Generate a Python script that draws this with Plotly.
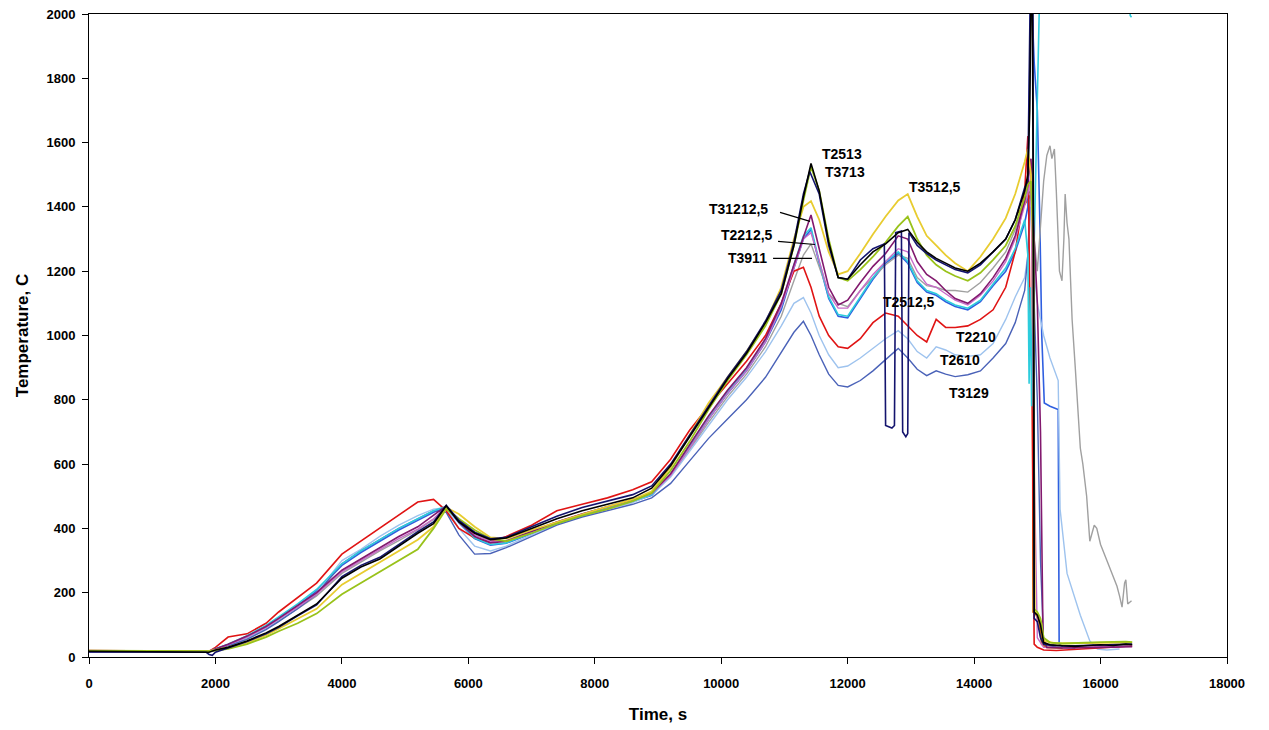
import plotly.graph_objects as go

# ---------------- data ----------------
time_main = [0, 500, 1000, 1500, 1900, 2000, 2200, 2500, 2800, 3000,
             3300, 3600, 4000, 4300, 4600, 4900, 5200, 5450, 5650, 5850,
             6100, 6350, 6600, 7000, 7400, 7800, 8200, 8600, 8900, 9200,
             9500, 9800, 10100, 10400, 10700, 10950, 11150, 11300, 11420, 11550,
             11700, 11850, 12000, 12200, 12400, 12600, 12800, 12950, 13100, 13250,
             13400, 13550, 13700, 13900, 14100, 14300, 14500, 14650, 14800]

t2513 = [18, 17, 18, 16, 15, 22, 30, 50, 75, 95,
         130, 165, 245, 280, 305, 345, 385, 415, 470, 420,
         385, 365, 370, 400, 430, 455, 475, 495, 525, 595,
         685, 775, 865, 945, 1040, 1130, 1280, 1430, 1535, 1450,
         1290, 1180, 1175, 1220, 1260, 1285, 1320, 1330, 1290, 1260,
         1240, 1225, 1210, 1200, 1225, 1260, 1300, 1360, 1450]
t2513_tail_t = [14850, 14880, 14900, 14920, 14940, 14950, 15000, 15050, 15100, 15200,
                15400, 15600, 15800, 16000, 16200, 16400, 16500]
t2513_tail_v = [1500, 1700, 2050, 2100, 1200, 140, 130, 100, 45, 38,
                35, 33, 36, 38, 36, 40, 38]

t3713 = [20, 19, 18, 17, 18, 20, 25, 40, 62, 80,
         105, 135, 195, 230, 265, 300, 335, 400, 460, 430,
         395, 368, 360, 385, 415, 440, 460, 485, 510, 580,
         670, 770, 860, 940, 1030, 1130, 1280, 1420, 1525, 1450,
         1300, 1180, 1170, 1205, 1245, 1290, 1340, 1370, 1300, 1250,
         1220, 1200, 1185, 1170, 1195, 1235, 1280, 1340, 1430]
t3713_tail_t = [14850, 14900, 14940, 14950, 15000, 15050, 15100, 15200, 15400, 15600,
                15800, 16000, 16200, 16400, 16500]
t3713_tail_v = [1470, 1480, 1300, 150, 140, 120, 60, 45, 42, 44,
                45, 46, 47, 48, 46]

t3512 = [18, 18, 17, 17, 18, 22, 30, 45, 68, 88,
         120, 150, 225, 260, 295, 330, 365, 405, 465, 445,
         405, 372, 368, 395, 420, 445, 468, 490, 515, 590,
         690, 790, 870, 950, 1040, 1150, 1300, 1400, 1418, 1360,
         1260, 1190, 1200, 1255, 1315, 1370, 1420, 1440, 1370, 1310,
         1280, 1250, 1225, 1200, 1245, 1300, 1365, 1440, 1540]
t3512_tail_t = [14850, 14900, 14940, 14960, 15000, 15060, 15100, 15300, 15600, 16000, 16500]
t3512_tail_v = [1580, 1500, 1200, 140, 135, 110, 50, 42, 42, 44, 45]

t31212 = [17, 17, 18, 16, 17, 25, 40, 65, 95, 120,
          160, 200, 270, 305, 340, 375, 405, 440, 470, 420,
          375, 355, 360, 390, 420, 445, 468, 490, 510, 570,
          660, 750, 830, 900, 990, 1100, 1220, 1310, 1375, 1270,
          1150, 1095, 1110, 1165, 1215, 1255, 1310, 1300, 1230, 1190,
          1170, 1140, 1115, 1100, 1130, 1180, 1240, 1310, 1420]
t31212_tail_t = [14850, 14900, 14950, 15000, 15050, 15075, 15090, 15150, 15400, 16000, 16500]
t31212_tail_v = [1480, 1550, 1300, 1100, 700, 300, 60, 30, 28, 30, 32]

lav = [17, 17, 18, 16, 17, 24, 38, 62, 92, 118,
       155, 195, 265, 300, 335, 368, 398, 430, 468, 425,
       380, 360, 362, 392, 420, 445, 466, 488, 508, 565,
       650, 740, 820, 890, 980, 1090, 1210, 1300, 1320, 1230,
       1130, 1085, 1085, 1140, 1190, 1230, 1270, 1260, 1200, 1160,
       1150, 1130, 1110, 1095, 1125, 1170, 1230, 1300, 1410]
lav_tail_t = [14850, 14900, 14950, 15000, 15100, 15500, 16000, 16500]
lav_tail_v = [1440, 1500, 600, 60, 30, 30, 32, 34]

t2212 = [18, 17, 18, 17, 17, 24, 35, 58, 88, 112,
         150, 190, 260, 295, 330, 362, 395, 428, 465, 430,
         385, 362, 362, 390, 418, 442, 465, 487, 508, 565,
         645, 730, 810, 880, 965, 1060, 1170, 1250, 1285, 1210,
         1130, 1100, 1090, 1140, 1180, 1220, 1250, 1240, 1180, 1155,
         1150, 1140, 1140, 1135, 1165, 1210, 1260, 1330, 1420]
t2212_tail_t = [14850, 14900, 14950, 15000, 15050, 15100, 15150, 15200, 15230, 15270,
                15300, 15350, 15390, 15420, 15440, 15470, 15500, 15550, 15600, 15680,
                15720, 15780, 15830, 15870, 15900, 15940, 16000, 16100, 16200, 16260,
                16300, 16340, 16380, 16400, 16430, 16460, 16490]
t2212_tail_v = [1440, 1450, 1300, 1200, 1350, 1480, 1560, 1590, 1550, 1580,
                1450, 1200, 1170, 1300, 1440, 1350, 1300, 1050, 900, 650,
                600, 500, 360, 390, 410, 400, 350, 300, 250, 220,
                190, 155, 230, 240, 165, 170, 175]

cyan = [17, 17, 17, 16, 17, 26, 40, 66, 98, 125,
        165, 210, 290, 330, 365, 400, 430, 455, 468, 420,
        370, 350, 355, 385, 415, 440, 462, 485, 505, 570,
        655, 745, 825, 895, 985, 1090, 1220, 1310, 1335, 1230,
        1120, 1065, 1060, 1120, 1180, 1230, 1260, 1230, 1170, 1140,
        1130, 1110, 1095, 1085, 1110, 1160, 1210, 1270, 1360]
cyan_tail_t = [14850, 14870, 14890, 14910, 14930, 14960, 15000, 15040, 15100, 16400, 16450, 16470, 16490]
cyan_tail_v = [1250, 850, 1150, 780, 1100, 1350, 1700, 2100, 2200, 2200, 2050, 1995, 1990]

time_navy = [0, 500, 1000, 1500, 1850, 1900, 1950, 2000, 2200, 2500,
             2800, 3000, 3300, 3600, 4000, 4300, 4600, 4900, 5200, 5450,
             5650, 5850, 6100, 6350, 6600, 7000, 7400, 7800, 8200, 8600,
             8900, 9200, 9500, 9800, 10100, 10400, 10700, 10950, 11150, 11300,
             11400, 11550, 11700, 11850, 12000, 12200, 12400, 12580, 12600, 12700,
             12740, 12760, 12850, 12870, 12920, 12950, 12970, 13100, 13250, 13400,
             13550, 13700, 13900, 14100, 14300, 14500, 14650, 14800]
t2512 = [16, 17, 16, 15, 15, 8, 5, 15, 28, 48,
         72, 92, 128, 162, 250, 285, 310, 350, 390, 420,
         472, 425, 388, 368, 372, 405, 438, 465, 485, 505,
         532, 600, 690, 780, 870, 950, 1045, 1140, 1290, 1440,
         1510, 1440, 1280, 1180, 1175, 1235, 1270, 1285, 720, 712,
         720, 1320, 1325, 700, 685, 695, 1320, 1280, 1255, 1235,
         1220, 1205, 1195, 1220, 1260, 1300, 1360, 1460]
t2512_tail_t = [14850, 14890, 14930, 14950, 15000, 15050, 15100, 15300, 15600, 16000, 16500]
t2512_tail_v = [1480, 2100, 2100, 120, 110, 60, 40, 35, 35, 38, 40]

t2210 = [20, 19, 20, 18, 18, 30, 62, 72, 105, 140,
         185, 230, 320, 360, 400, 440, 482, 490, 455, 400,
         370, 358, 375, 410, 455, 475, 495, 520, 545, 615,
         705, 780, 850, 920, 1000, 1100, 1200, 1212, 1150, 1060,
         1000, 965, 960, 990, 1040, 1070, 1060, 1030, 1000, 980,
         1050, 1025, 1025, 1030, 1050, 1080, 1150, 1260, 1450]
t2210_tail_t = [14850, 14870, 14890, 14910, 14940, 14950, 15000, 15100, 15300, 15500,
                15800, 16100, 16300, 16500]
t2210_tail_v = [1620, 1300, 950, 1000, 300, 40, 30, 22, 20, 22,
                25, 28, 32, 35]

t2610 = [17, 17, 17, 16, 17, 25, 35, 60, 90, 115,
         155, 200, 300, 335, 375, 410, 440, 460, 465, 400,
         345, 330, 345, 380, 415, 440, 460, 480, 505, 560,
         640, 720, 800, 870, 950, 1030, 1100, 1118, 1070, 1000,
         940, 900, 905, 930, 960, 990, 1015, 990, 950, 930,
         965, 955, 940, 935, 940, 975, 1050, 1120, 1180]
t2610_tail_t = [14850, 14900, 14950, 15000, 15100, 15200, 15330, 15360, 15470, 15680,
                15830, 15950, 16100, 16300]
t2610_tail_v = [1250, 1400, 1200, 1100, 1000, 930, 860, 460, 260, 130,
                50, 25, 22, 25]

t3129 = [17, 17, 17, 16, 17, 25, 35, 55, 85, 110,
         150, 195, 290, 330, 365, 400, 430, 455, 450, 380,
         320, 322, 340, 375, 410, 435, 455, 475, 495, 540,
         610, 680, 740, 800, 870, 950, 1010, 1044, 1000, 940,
         880, 845, 840, 860, 890, 925, 960, 930, 895, 875,
         890, 880, 872, 878, 890, 930, 975, 1040, 1140]
t3129_tail_t = [14850, 14900, 14950, 15000, 15050, 15100, 15300, 15600]
t3129_tail_v = [1250, 1500, 1100, 800, 300, 40, 30, 28]

blue = [17, 17, 17, 16, 17, 25, 38, 63, 95, 122,
        160, 205, 285, 325, 360, 395, 425, 450, 466, 418,
        368, 348, 354, 384, 414, 438, 460, 483, 503, 565,
        650, 740, 820, 890, 980, 1080, 1210, 1300, 1330, 1225,
        1115, 1060, 1055, 1115, 1175, 1225, 1255, 1225, 1165, 1135,
        1125, 1105, 1090, 1080, 1105, 1155, 1200, 1260, 1350]
blue_tail_t = [14850, 14900, 14950, 15000, 15040, 15070, 15110, 15200, 15330, 15345, 15400, 15600]
blue_tail_v = [1400, 2100, 1850, 1700, 1350, 1000, 790, 780, 770, 40, 32, 30]

orange_t = [14700, 14800, 14890, 14920, 14935, 14980, 15030, 15070, 15150, 15400]
orange_v = [1380, 1410, 1435, 1430, 140, 132, 110, 40, 30, 28]

x_ticks = [0, 2000, 4000, 6000, 8000, 10000, 12000, 14000, 16000, 18000]
x_tick_text = ["0", "2000", "4000", "6000", "8000", "10000", "12000", "14000", "16000", "18000"]
y_ticks = [0, 200, 400, 600, 800, 1000, 1200, 1400, 1600, 1800, 2000]
y_tick_text = ["0", "200", "400", "600", "800", "1000", "1200", "1400", "1600", "1800", "2000"]

# labels: text, x, y
labels = [
    ("T2513", 11910, 1564),
    ("T3713", 11958, 1508),
    ("T3512,5", 13380, 1461),
    ("T31212,5", 10266, 1393),
    ("T2212,5", 10408, 1313),
    ("T3911", 10408, 1240),
    ("T2512,5", 12970, 1103),
    ("T2210", 14030, 994),
    ("T2610", 13777, 925),
    ("T3129", 13920, 822),
]
leaders = [  # x0, y0, x1, y1
    (10930, 1383, 11405, 1355),
    (10899, 1293, 11484, 1283),
    (10820, 1240, 11436, 1240),
]

# ---------------- figure ----------------
series = [
    ("orange", orange_t, orange_v, "#CC6600", 2.0),
    ("blue", time_main + blue_tail_t, blue + blue_tail_v, "#2F5FE0", 1.6),
    ("T2212,5", time_main + t2212_tail_t, t2212 + t2212_tail_v, "#A0A0A0", 1.4),
    ("T2610", time_main + t2610_tail_t, t2610 + t2610_tail_v, "#9EC3EE", 1.4),
    ("T3129", time_main + t3129_tail_t, t3129 + t3129_tail_v, "#4A62B8", 1.4),
    ("T2210", time_main + t2210_tail_t, t2210 + t2210_tail_v, "#E01414", 1.6),
    ("cyan", time_main + cyan_tail_t, cyan + cyan_tail_v, "#2CCCDC", 1.6),
    ("lav", time_main + lav_tail_t, lav + lav_tail_v, "#C86BC8", 1.4),
    ("T31212,5", time_main + t31212_tail_t, t31212 + t31212_tail_v, "#82196E", 1.6),
    ("T3512,5", time_main + t3512_tail_t, t3512 + t3512_tail_v, "#E8CC30", 1.8),
    ("T3713", time_main + t3713_tail_t, t3713 + t3713_tail_v, "#99C21A", 1.8),
    ("T2512,5", time_navy + t2512_tail_t, t2512 + t2512_tail_v, "#14146E", 1.6),
    ("T2513", time_main + t2513_tail_t, t2513 + t2513_tail_v, "#000000", 1.6),
]

fig = go.Figure()
for name, xs, ys, col, w in series:
    fig.add_trace(go.Scatter(x=xs, y=ys, mode="lines", name=name,
                             line=dict(color=col, width=w), hoverinfo="skip"))

for txt, lx, ly in labels:
    fig.add_annotation(x=lx, y=ly, text=txt, showarrow=False,
                       font=dict(family="Liberation Sans, Arial", size=14, color="black", weight="bold"))
for x0, y0, x1, y1 in leaders:
    fig.add_shape(type="line", x0=x0, y0=y0, x1=x1, y1=y1, xref="x", yref="y",
                  line=dict(color="black", width=1.2))

axis_font = dict(family="Liberation Sans, Arial", size=13, color="black", weight="bold")
fig.update_xaxes(range=[0, 18000], tickvals=x_ticks, ticktext=x_tick_text, ticks="outside", ticklen=6,
                 tickcolor="black", showline=True, linecolor="black", linewidth=1,
                 mirror=True, showgrid=False, zeroline=False, tickfont=axis_font,
                 ticklabelstandoff=8, automargin=False,
                 title=dict(text="Time, s", standoff=18,
                            font=dict(family="Liberation Sans, Arial", size=17, color="black", weight="bold")))
fig.update_yaxes(range=[0, 2000], tickvals=y_ticks, ticktext=y_tick_text, ticks="outside", ticklen=6,
                 tickcolor="black", showline=True, linecolor="black", linewidth=1,
                 mirror=True, showgrid=False, zeroline=False, tickfont=axis_font,
                 ticklabelstandoff=4, automargin=False,
                 title=dict(text="Temperature, C", standoff=13,
                            font=dict(family="Liberation Sans, Arial", size=17, color="black", weight="bold")))
fig.update_layout(width=1269, height=730, margin=dict(l=89, r=42, t=14, b=73, autoexpand=False),
                  plot_bgcolor="white", paper_bgcolor="white", showlegend=False)

fig.write_html("out.html")
